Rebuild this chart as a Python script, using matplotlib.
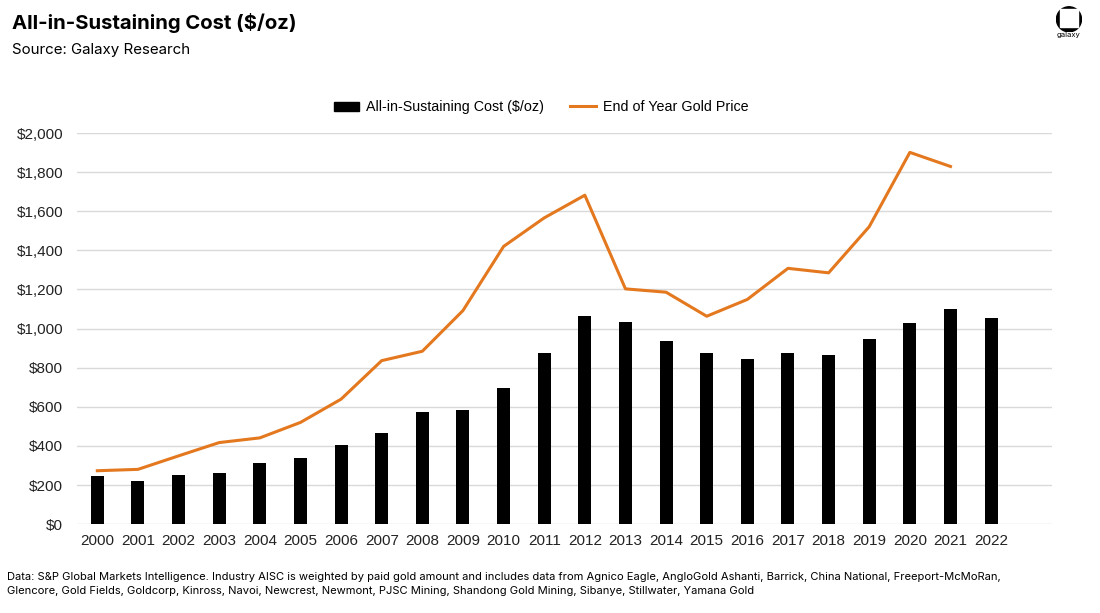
import matplotlib

matplotlib.use("Agg")
import matplotlib.pyplot as plt
from matplotlib.patches import Circle, Rectangle
from matplotlib.lines import Line2D
from matplotlib.ticker import FuncFormatter

# Данные
years = [str(y) for y in range(2000, 2023)]
aisc = [248, 222, 251, 263, 314, 337, 405, 468, 574, 585, 694, 875,
        1063, 1032, 935, 873, 845, 873, 867, 947, 1026, 1101, 1055]
gold = [273, 280, 349, 417, 441, 520, 639, 836, 884, 1092, 1420, 1566,
        1682, 1203, 1186, 1063, 1149, 1308, 1285, 1521, 1901, 1829]

C_BAR = "#000000"
C_LINE = "#E4781F"
C_GRID = "#D9D9D9"
F_HEAD = ["Inter", "DejaVu Sans"]
F_TICK = ["Liberation Sans", "DejaVu Sans"]

fig = plt.figure(figsize=(11, 6.13), dpi=100)
ax = fig.add_axes([0.07, 0.145, 0.8864, 0.638])

x = list(range(len(years)))
ax.bar(x, aisc, width=0.32, color=C_BAR, zorder=3,
       label="All-in-Sustaining Cost ($/oz)")
ax.plot(x[:len(gold)], gold, color=C_LINE, lw=2.2, zorder=4,
        label="End of Year Gold Price")

ax.set_xlim(-0.5, len(years) + 0.5)
ax.set_ylim(0, 2000)
ax.set_yticks(range(0, 2001, 200))
ax.yaxis.set_major_formatter(FuncFormatter(lambda v, _: f"${v:,.0f}"))
ax.set_xticks(x)
ax.set_xticklabels(years)
ax.grid(axis="y", color=C_GRID, lw=1, zorder=0)
for s in ax.spines.values():
    s.set_visible(False)
ax.tick_params(length=0, labelsize=11, colors="#222222")
ax.tick_params(axis="y", pad=10)
ax.tick_params(axis="x", pad=7)
for lab in ax.get_xticklabels() + ax.get_yticklabels():
    lab.set_family(F_TICK)

handles = [Rectangle((0, 0), 1, 1, color=C_BAR),
           Line2D([0], [0], color=C_LINE, lw=2.2)]
ax.legend(handles, ["All-in-Sustaining Cost ($/oz)", "End of Year Gold Price"],
          loc="lower center", bbox_to_anchor=(0.476, 1.015), ncol=2, frameon=False,
          prop={"family": F_TICK, "size": 10.3}, handlelength=1.8,
          handleheight=0.6, handletextpad=0.5, columnspacing=1.8)

# Заголовок, источник, примечание
fig.text(0.011, 0.963, "All-in-Sustaining Cost ($/oz)", fontsize=14.6,
         fontweight="bold", family=F_HEAD, va="center", ha="left")
fig.text(0.011, 0.918, "Source: Galaxy Research", fontsize=10.9,
         family=F_HEAD, va="center", ha="left")
fig.text(0.006, 0.028,
         "Data: S&P Global Markets Intelligence. Industry AISC is weighted by paid gold amount "
         "and includes data from Agnico Eagle, AngloGold Ashanti, Barrick, China National, "
         "Freeport-McMoRan,\nGlencore, Gold Fields, Goldcorp, Kinross, Navoi, Newcrest, Newmont, "
         "PJSC Mining, Shandong Gold Mining, Sibanye, Stillwater, Yamana Gold",
         fontsize=8.05, family=F_HEAD, va="bottom", ha="left", linespacing=1.45)

# Логотип galaxy
lx, ly = 0.9718, 0.969
logo = fig.add_axes([lx - 0.012, ly - 0.022, 0.024, 0.043])
logo.set_xlim(-1, 1)
logo.set_ylim(-1, 1)
logo.set_aspect("equal")
logo.axis("off")
logo.add_patch(Circle((0, 0), 0.95, color="black"))
logo.add_patch(Rectangle((-0.7, -0.55), 1.4, 1.3, color="white"))
fig.text(lx, 0.943, "galaxy", fontsize=5.5, family=F_HEAD, ha="center", va="center")

fig.savefig("out.png", dpi=100, facecolor="white")
